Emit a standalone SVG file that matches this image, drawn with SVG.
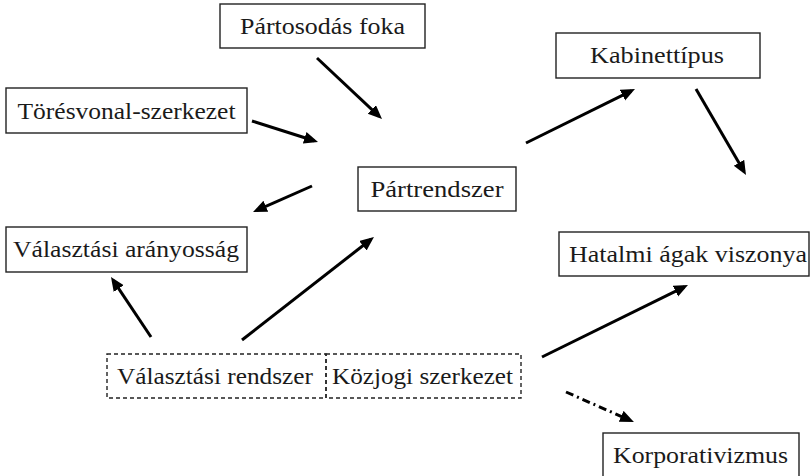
<svg xmlns="http://www.w3.org/2000/svg" width="810" height="476" viewBox="0 0 810 476">
<defs>
<style>
.box{fill:#fff;stroke:#222;stroke-width:1.4}
.dbox{fill:none;stroke:#222;stroke-width:1.4;stroke-dasharray:4 3}
.lbl{font-family:"Liberation Serif","DejaVu Serif",serif;font-size:23px;fill:#1a1a1a;text-anchor:middle}
.arr{stroke:#000;stroke-width:3;fill:none;marker-end:url(#ah)}
.dd{stroke-dasharray:8 4 2 4}
</style>
<marker id="ah" markerUnits="userSpaceOnUse" markerWidth="16" markerHeight="14" refX="10" refY="6" orient="auto">
<path d="M0,0 L14,6 L0,12 z" fill="#000"/>
</marker>
</defs>
<rect width="810" height="476" fill="#fff"/>
<g id="connectors">
<line class="arr" x1="317" y1="58" x2="379.1" y2="116.3"/>
<line class="arr" x1="252" y1="121" x2="314.2" y2="140.8"/>
<line class="arr" x1="312" y1="186" x2="256.7" y2="210.4"/>
<line class="arr" x1="151" y1="337" x2="113.2" y2="280.3"/>
<line class="arr" x1="242" y1="340" x2="370.8" y2="239.5"/>
<line class="arr" x1="526" y1="143" x2="631.4" y2="90.8"/>
<line class="arr" x1="696" y1="89" x2="744" y2="171.5"/>
<line class="arr" x1="542" y1="357" x2="684.4" y2="286.8"/>
<line class="arr dd" x1="566" y1="392" x2="630.3" y2="420.4"/>
</g>
<g id="partosodas">
<rect class="box" x="220" y="4" width="205" height="44"/>
<text class="lbl" x="322.5" y="34" textLength="165" lengthAdjust="spacingAndGlyphs">Pártosodás foka</text>
</g>
<g id="toresvonal">
<rect class="box" x="6" y="88" width="241" height="45"/>
<text class="lbl" x="126.5" y="118.5" textLength="218" lengthAdjust="spacingAndGlyphs">Törésvonal-szerkezet</text>
</g>
<g id="partrendszer">
<rect class="box" x="358" y="167" width="158" height="44"/>
<text class="lbl" x="437" y="197" textLength="133" lengthAdjust="spacingAndGlyphs">Pártrendszer</text>
</g>
<g id="kabinettipus">
<rect class="box" x="556" y="33" width="204" height="45"/>
<text class="lbl" x="657" y="63" textLength="134" lengthAdjust="spacingAndGlyphs">Kabinettípus</text>
</g>
<g id="hatalmi">
<rect class="box" x="559" y="232" width="250" height="44"/>
<text class="lbl" x="688" y="262" textLength="238" lengthAdjust="spacingAndGlyphs">Hatalmi ágak viszonya</text>
</g>
<g id="valasztasi-aranyossag">
<rect class="box" x="6" y="227" width="241" height="45"/>
<text class="lbl" x="126" y="257" textLength="226" lengthAdjust="spacingAndGlyphs">Választási arányosság</text>
</g>
<g id="valasztasi-rendszer">
<rect class="dbox" x="107" y="354" width="219" height="44"/>
<text class="lbl" x="215" y="384" textLength="196" lengthAdjust="spacingAndGlyphs">Választási rendszer</text>
</g>
<g id="kozjogi">
<rect class="dbox" x="326" y="354" width="195" height="44"/>
<text class="lbl" x="422.5" y="384" textLength="181" lengthAdjust="spacingAndGlyphs">Közjogi szerkezet</text>
</g>
<g id="korporativizmus">
<rect class="box" x="603" y="433" width="196" height="46"/>
<text class="lbl" x="700.5" y="463" textLength="175" lengthAdjust="spacingAndGlyphs">Korporativizmus</text>
</g>
</svg>
